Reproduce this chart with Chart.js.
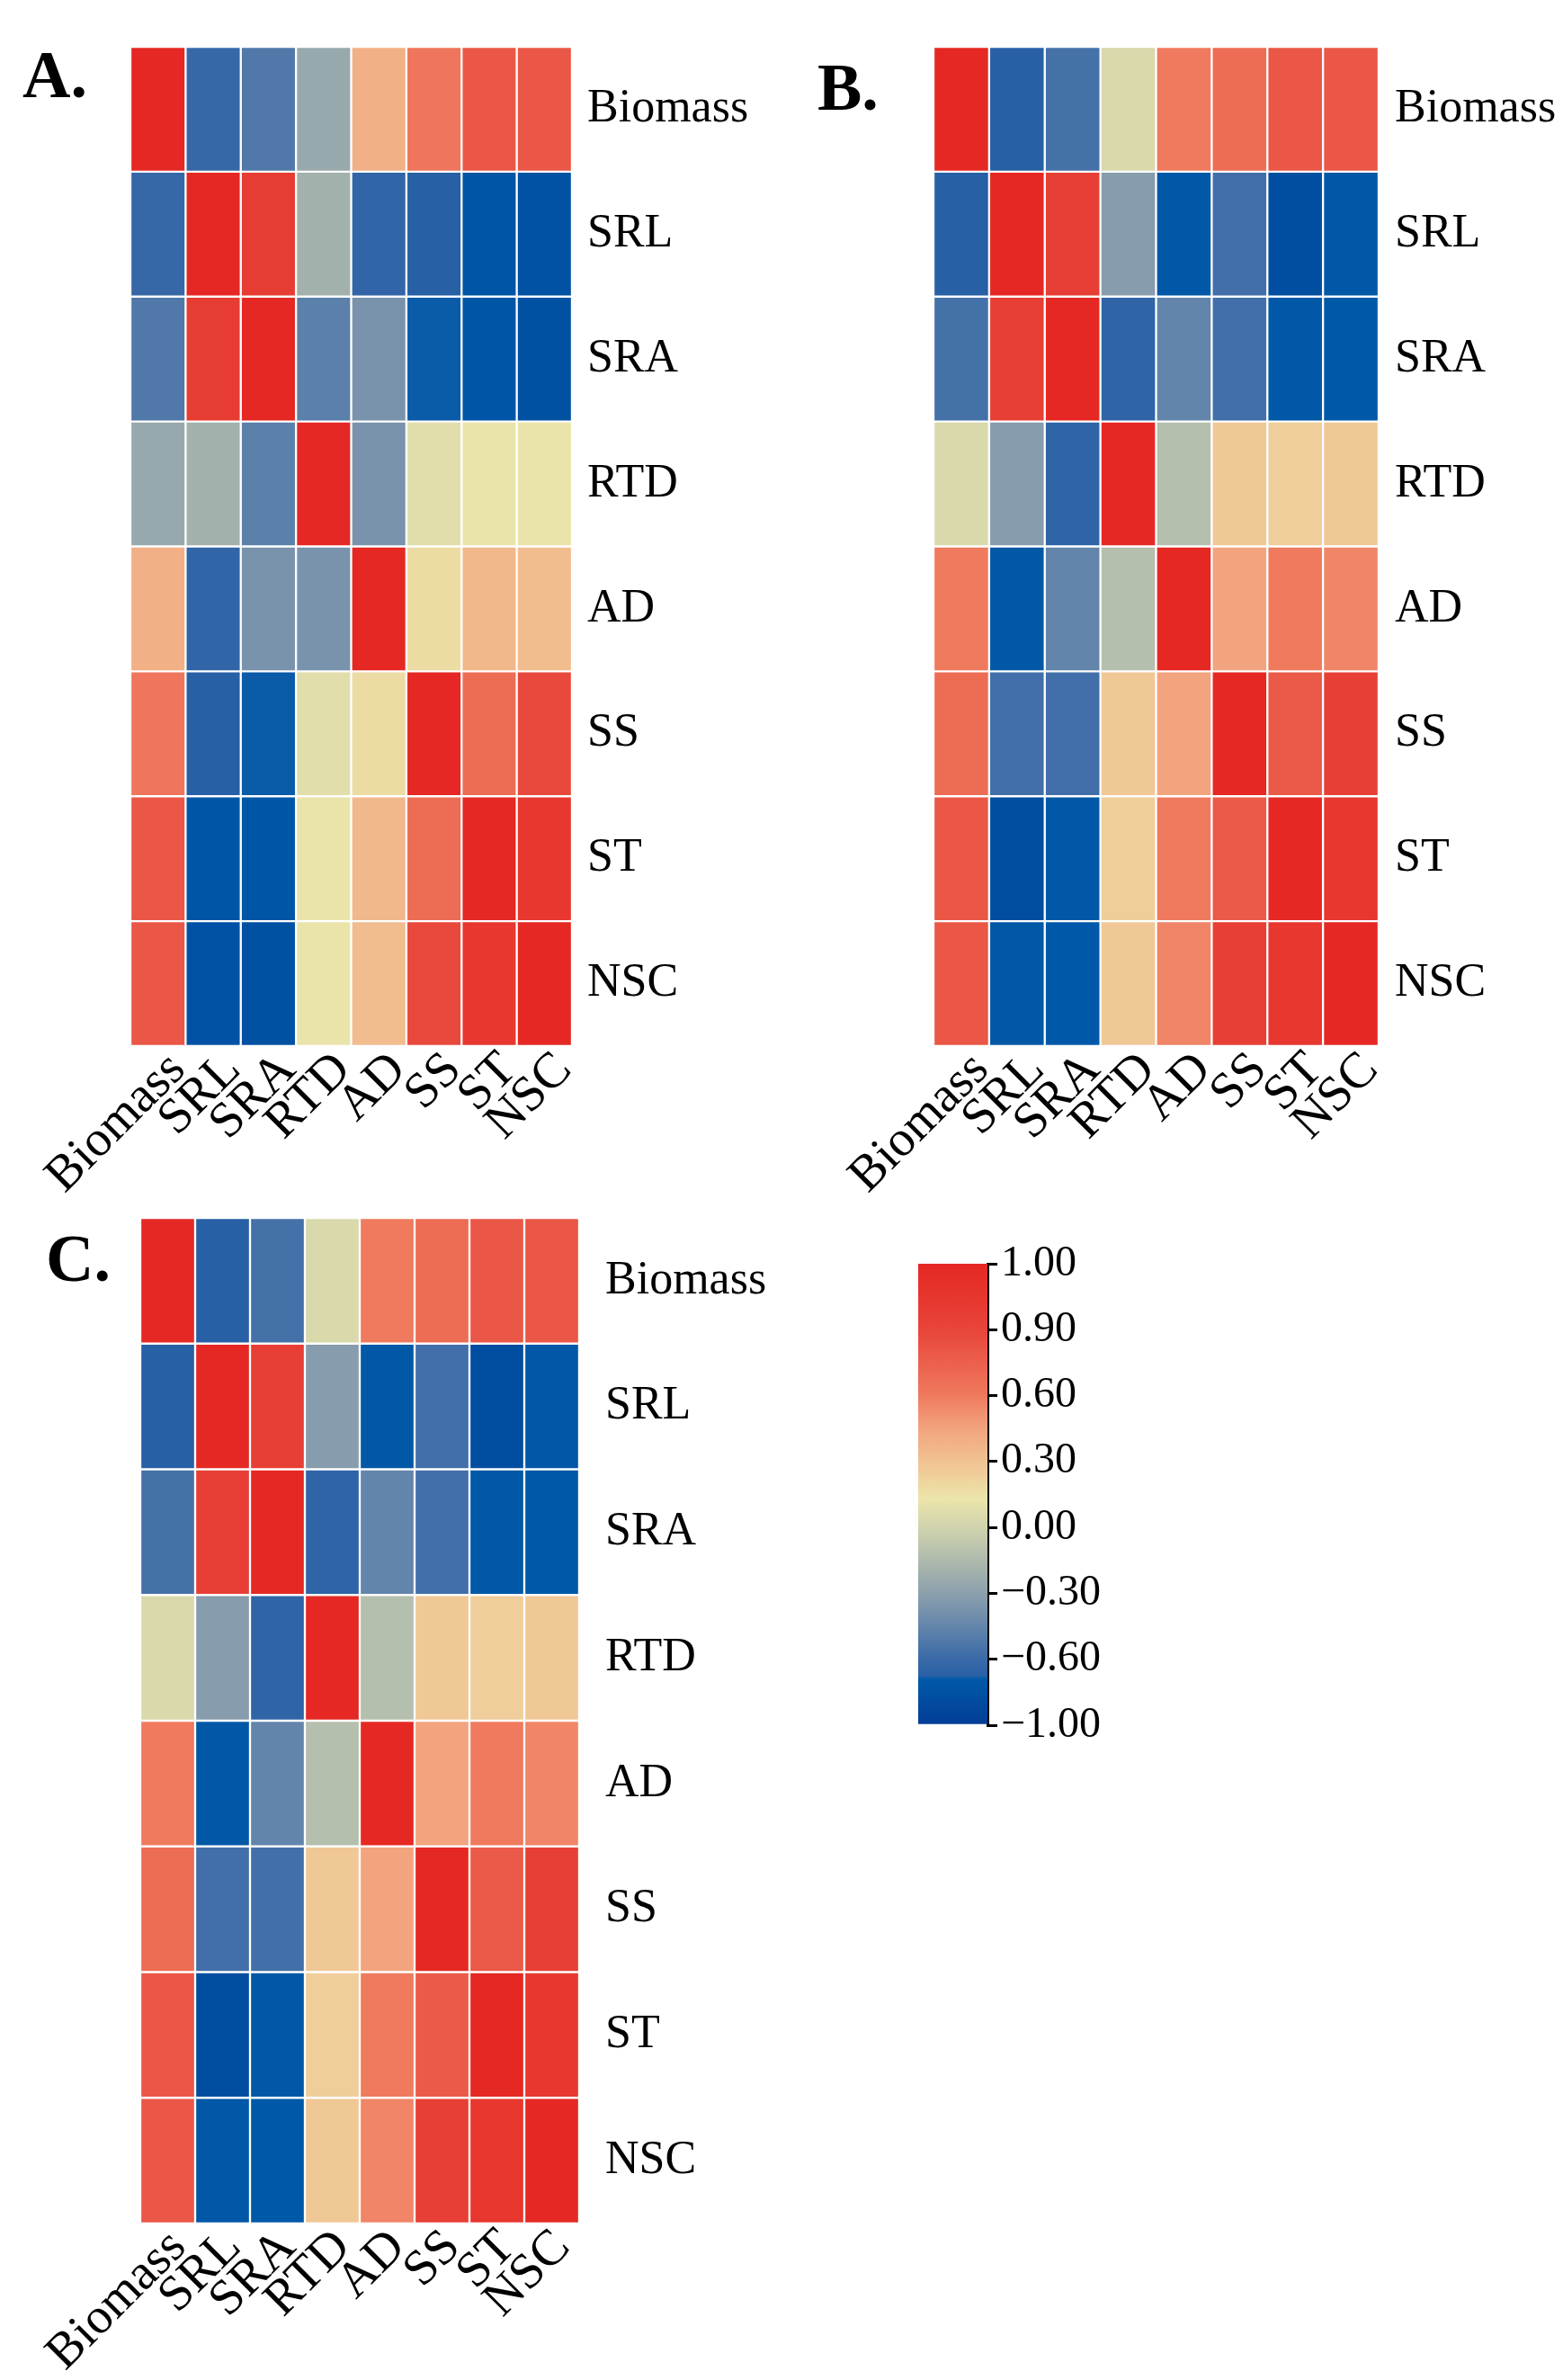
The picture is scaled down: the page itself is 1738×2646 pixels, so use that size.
<!DOCTYPE html>
<html>
<head>
<meta charset="utf-8">
<script src="https://cdn.jsdelivr.net/npm/chart.js@4.4.1/dist/chart.umd.min.js"></script>
<style>
  body { margin: 0; background: #fff; }
  #page { position: relative; width: 1738px; height: 2646px; background: #fff; overflow: hidden; }
  canvas { position: absolute; }
  .panel-label {
    position: absolute;
    font-family: "Liberation Serif", "Times New Roman", serif;
    font-weight: bold;
    font-size: 74px;
    line-height: 1;
    color: #000;
  }
</style>
</head>
<body>
<div id="page">
  <div class="panel-label" style="left:25px; top:46px;">A.</div>
  <div class="panel-label" style="left:909px; top:60px;">B.</div>
  <div class="panel-label" style="left:51px; top:1362px;">C.</div>
  <canvas id="chartA"></canvas>
  <canvas id="chartB"></canvas>
  <canvas id="chartC"></canvas>
  <canvas id="colorbar"></canvas>
</div>
<script>
// trait names, used for both rows and columns
const traitNames = ["Biomass", "SRL", "SRA", "RTD", "AD", "SS", "ST", "NSC"];

// correlation matrices, one row per trait (same order as traitNames)
const corrA = [
  [1.00, -0.62, -0.52, -0.25, 0.39, 0.62, 0.80, 0.80],
  [-0.62, 1.00, 0.93, -0.20, -0.65, -0.70, -0.75, -0.79],
  [-0.52, 0.93, 1.00, -0.48, -0.37, -0.715, -0.75, -0.80],
  [-0.25, -0.20, -0.48, 1.00, -0.37, 0.08, 0.12, 0.12],
  [0.39, -0.65, -0.37, -0.37, 1.00, 0.18, 0.35, 0.33],
  [0.62, -0.70, -0.715, 0.08, 0.18, 1.00, 0.68, 0.88],
  [0.80, -0.75, -0.75, 0.12, 0.35, 0.68, 1.00, 0.95],
  [0.80, -0.79, -0.80, 0.12, 0.33, 0.88, 0.95, 1.00]
];
const corrB = [
  [1.00, -0.70, -0.56, 0.04, 0.60, 0.68, 0.80, 0.80],
  [-0.70, 1.00, 0.92, -0.32, -0.73, -0.57, -0.83, -0.73],
  [-0.56, 0.92, 1.00, -0.66, -0.45, -0.57, -0.73, -0.72],
  [0.04, -0.32, -0.66, 1.00, -0.12, 0.27, 0.24, 0.27],
  [0.60, -0.73, -0.45, -0.12, 1.00, 0.45, 0.60, 0.56],
  [0.68, -0.57, -0.57, 0.27, 0.45, 1.00, 0.78, 0.92],
  [0.80, -0.83, -0.73, 0.24, 0.60, 0.78, 1.00, 0.95],
  [0.80, -0.73, -0.72, 0.27, 0.56, 0.92, 0.95, 1.00]
];
const corrC = [
  [1.00, -0.70, -0.56, 0.04, 0.60, 0.68, 0.80, 0.80],
  [-0.70, 1.00, 0.92, -0.32, -0.73, -0.57, -0.83, -0.73],
  [-0.56, 0.92, 1.00, -0.66, -0.45, -0.57, -0.73, -0.72],
  [0.04, -0.32, -0.66, 1.00, -0.12, 0.27, 0.24, 0.27],
  [0.60, -0.73, -0.45, -0.12, 1.00, 0.45, 0.60, 0.56],
  [0.68, -0.57, -0.57, 0.27, 0.45, 1.00, 0.78, 0.92],
  [0.80, -0.83, -0.73, 0.24, 0.60, 0.78, 1.00, 0.95],
  [0.80, -0.73, -0.72, 0.27, 0.56, 0.92, 0.95, 1.00]
];

// colorbar ticks (equally spaced on the bar)
const colorbarTicks = [-1.00, -0.60, -0.30, 0.00, 0.30, 0.60, 0.90, 1.00];
const colorbarLabels = ["\u22121.00", "\u22120.60", "\u22120.30", "0.00", "0.30", "0.60", "0.90", "1.00"];

// colour map stops
const cmapValues = [-1.00, -0.72, -0.70, -0.60, -0.30, 0.00, 0.13, 0.30, 0.45, 0.60, 0.90, 1.00];
const cmapColors = ["#033d97", "#0059a8", "#2860a6", "#3a6aa8", "#8ca0ad", "#d0d3ad", "#ece5ab",
                    "#f1c292", "#f2a47e", "#ef7a5e", "#e8453a", "#e52823"];

const serif = "'Liberation Serif', 'Times New Roman', serif";

function hexToRgb(h) {
  return [parseInt(h.slice(1, 3), 16), parseInt(h.slice(3, 5), 16), parseInt(h.slice(5, 7), 16)];
}

// value -> colour, linear between stops
function valueColor(v) {
  v = Math.max(-1, Math.min(1, v));
  for (let i = 1; i < cmapValues.length; i++) {
    if (v <= cmapValues[i]) {
      let t = (v - cmapValues[i - 1]) / (cmapValues[i] - cmapValues[i - 1]);
      let a = hexToRgb(cmapColors[i - 1]);
      let b = hexToRgb(cmapColors[i]);
      let c = a.map((x, k) => Math.round(x + (b[k] - x) * t));
      return "rgb(" + c.join(",") + ")";
    }
  }
  return cmapColors[cmapColors.length - 1];
}

// value -> position on the colorbar axis (0 .. ticks-1)
function valueToBarPos(v) {
  for (let i = 1; i < colorbarTicks.length; i++) {
    if (v <= colorbarTicks[i]) {
      return i - 1 + (v - colorbarTicks[i - 1]) / (colorbarTicks[i] - colorbarTicks[i - 1]);
    }
  }
  return colorbarTicks.length - 1;
}

// heatmap drawn as stacked bars, one dataset per row
function drawHeatmap(canvasId, matrix, box) {
  const padLeft = 140, padTop = 80, axisRight = 260, axisBottom = 200;
  let canvas = document.getElementById(canvasId);
  canvas.width = padLeft + box.width + axisRight;
  canvas.height = padTop + box.height + axisBottom;
  canvas.style.left = (box.left - padLeft) + "px";
  canvas.style.top = (box.top - padTop) + "px";

  let n = traitNames.length;
  let datasets = [];
  // bottom row first so the first trait ends up on top
  for (let r = n - 1; r >= 0; r--) {
    datasets.push({
      label: traitNames[r],
      data: matrix[r].map(() => 1),
      backgroundColor: matrix[r].map(valueColor),
      borderColor: "#ffffff",
      borderWidth: 1.5,
      borderSkipped: false,
      barPercentage: 1,
      categoryPercentage: 1
    });
  }

  new Chart(canvas, {
    type: "bar",
    data: { labels: traitNames, datasets: datasets },
    options: {
      responsive: false,
      animation: false,
      layout: { padding: { left: padLeft, top: padTop, right: 0, bottom: 0 } },
      plugins: { legend: { display: false }, tooltip: { enabled: false } },
      scales: {
        x: {
          stacked: true,
          grid: { display: false, drawTicks: false },
          border: { display: false },
          afterFit: s => { s.height = axisBottom; },
          ticks: {
            autoSkip: false,
            minRotation: 45,
            maxRotation: 45,
            padding: -6,
            labelOffset: box.xShift,
            color: "#000",
            font: { family: serif, size: 56 }
          }
        },
        y: {
          stacked: true,
          position: "right",
          min: 0,
          max: n,
          grid: { display: false, drawTicks: false },
          border: { display: false },
          afterFit: s => { s.width = axisRight; },
          afterBuildTicks: s => { s.ticks = traitNames.map((_, i) => ({ value: i + 0.5 })); },
          ticks: {
            autoSkip: false,
            padding: box.labelGap,
            color: "#000",
            font: { family: serif, size: 52 },
            callback: v => traitNames[n - 1 - Math.floor(v)]
          }
        }
      }
    }
  });
}

function drawColorbar() {
  const box = { left: 1021, top: 1405, width: 77, height: 513 };
  const pad = 50, axisRight = 220;
  let canvas = document.getElementById("colorbar");
  canvas.width = box.width + axisRight;
  canvas.height = box.height + pad * 2;
  canvas.style.left = box.left + "px";
  canvas.style.top = (box.top - pad) + "px";
  let top = colorbarTicks.length - 1;

  new Chart(canvas, {
    type: "bar",
    data: {
      labels: [""],
      datasets: [{
        data: [[0, top]],
        borderWidth: 0,
        barPercentage: 1,
        categoryPercentage: 1,
        backgroundColor: ctx => {
          let area = ctx.chart.chartArea;
          if (!area) return "#cccccc";
          let g = ctx.chart.ctx.createLinearGradient(0, area.bottom, 0, area.top);
          for (let k = 0; k <= 400; k++) {
            let v = -1 + 2 * k / 400;
            g.addColorStop(valueToBarPos(v) / top, valueColor(v));
          }
          return g;
        }
      }]
    },
    options: {
      responsive: false,
      animation: false,
      layout: { padding: { top: pad, bottom: pad, left: 0, right: 0 } },
      plugins: { legend: { display: false }, tooltip: { enabled: false } },
      scales: {
        x: { display: false },
        y: {
          position: "right",
          min: 0,
          max: top,
          afterFit: s => { s.width = axisRight; },
          grid: { drawOnChartArea: false, drawTicks: true, tickLength: 11, color: "#000", lineWidth: 3 },
          border: { display: true, color: "#000", width: 3 },
          ticks: {
            stepSize: 1,
            padding: 4,
            color: "#000",
            font: { family: serif, size: 48 },
            callback: v => colorbarLabels[v]
          }
        }
      }
    }
  });
}

drawHeatmap("chartA", corrA, { left: 145, top: 52, width: 491, height: 1111, labelGap: 17, xShift: 22 });
drawHeatmap("chartB", corrB, { left: 1038, top: 52, width: 495, height: 1111, labelGap: 18, xShift: 22 });
drawHeatmap("chartC", corrC, { left: 156, top: 1354, width: 488, height: 1118, labelGap: 29, xShift: 12 });
drawColorbar();
</script>
</body>
</html>
